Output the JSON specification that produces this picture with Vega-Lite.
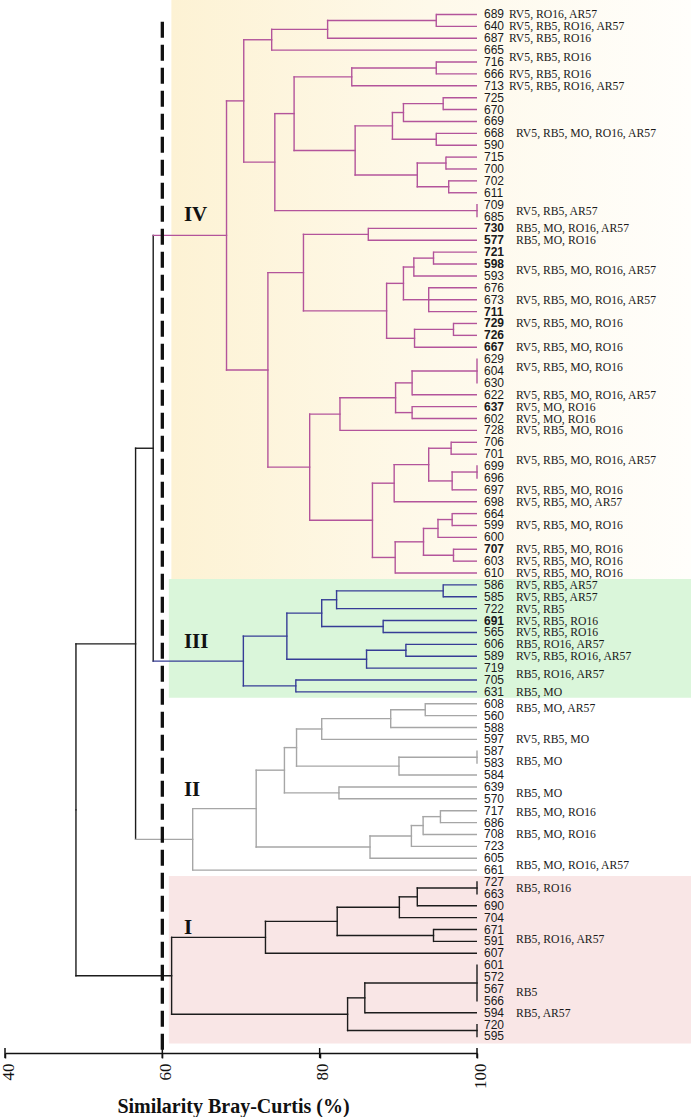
{
  "$schema": "https://vega.github.io/schema/vega-lite/v6.json",
  "width": 472,
  "height": 1053,
  "autosize": {"type": "none"},
  "padding": {"left": 5, "top": 0, "right": 214, "bottom": 64},
  "background": "white",
  "config": {
    "view": {"stroke": null},
    "axisX": {"tickCount": 3, "format": "d", "labelAngle": -90, "labelFlush": false, "labelOffset": 3, "labelFont": "Liberation Serif", "labelFontSize": 17, "labelColor": "#111111", "labelPadding": 5, "tickSize": 5, "tickWidth": 1.5, "tickColor": "#111111", "domainColor": "#111111", "domainWidth": 1.5, "grid": false, "titleFont": "Liberation Serif", "titleFontSize": 20, "titleFontWeight": "bold", "titleColor": "#111111", "titlePadding": 8, "titleX": 228}
  },
  "datasets": {
    "bands": [
      {"grp": "IV", "x0": 61.15, "x1": 127.2, "y0": -1.22, "y1": 47.5},
      {"grp": "III", "x0": 60.83, "x1": 127.2, "y0": 47.5, "y1": 57.5},
      {"grp": "I", "x0": 60.83, "x1": 127.2, "y0": 72.5, "y1": 86.6}
    ],
    "cut": [{"sim": 60, "top": 0.6, "bottom": 87.39}],
    "ticks": [{"v": 40}, {"v": 60}, {"v": 80}, {"v": 100}],
    "nodes": [
      {"id":"A","sim":94.82,"ymin":0,"ymax":1,"y":0.5,"psim":81.01,"grp":"IV"},
      {"id":"B","sim":81.01,"ymin":0.5,"ymax":2,"y":1.25,"psim":73.9,"grp":"IV"},
      {"id":"C","sim":73.9,"ymin":1.25,"ymax":3,"y":2.125,"psim":70.35,"grp":"IV"},
      {"id":"D","sim":94.82,"ymin":4,"ymax":5,"y":4.5,"psim":84.08,"grp":"IV"},
      {"id":"E","sim":84.08,"ymin":4.5,"ymax":6,"y":5.25,"psim":76.75,"grp":"IV"},
      {"id":"F","sim":95.7,"ymin":7,"ymax":8,"y":7.5,"psim":90.65,"grp":"IV"},
      {"id":"G","sim":90.65,"ymin":7.5,"ymax":9,"y":8.25,"psim":89.25,"grp":"IV"},
      {"id":"H","sim":94.82,"ymin":10,"ymax":11,"y":10.5,"psim":89.25,"grp":"IV"},
      {"id":"I4","sim":89.25,"ymin":8.25,"ymax":10.5,"y":9.375,"psim":84.51,"grp":"IV"},
      {"id":"J","sim":96.05,"ymin":12,"ymax":13,"y":12.5,"psim":92.41,"grp":"IV"},
      {"id":"K","sim":96.4,"ymin":14,"ymax":15,"y":14.5,"psim":92.41,"grp":"IV"},
      {"id":"L","sim":92.41,"ymin":12.5,"ymax":14.5,"y":13.5,"psim":84.51,"grp":"IV"},
      {"id":"M","sim":84.51,"ymin":9.375,"ymax":13.5,"y":11.44,"psim":76.75,"grp":"IV"},
      {"id":"N","sim":76.75,"ymin":5.25,"ymax":11.44,"y":8.34,"psim":74.3,"grp":"IV"},
      {"id":"HH1","sim":100,"ymin":16,"ymax":17,"y":16.5,"psim":74.3,"grp":"IV"},
      {"id":"O","sim":74.3,"ymin":8.34,"ymax":16.5,"y":12.42,"psim":70.35,"grp":"IV"},
      {"id":"P","sim":70.35,"ymin":2.125,"ymax":12.42,"y":7.27,"psim":68.16,"grp":"IV"},
      {"id":"S","sim":86.18,"ymin":18,"ymax":19,"y":18.5,"psim":77.94,"grp":"IV"},
      {"id":"T","sim":94.47,"ymin":20,"ymax":21,"y":20.5,"psim":91.97,"grp":"IV"},
      {"id":"U","sim":91.97,"ymin":20.5,"ymax":22,"y":21.25,"psim":90.65,"grp":"IV"},
      {"id":"V","sim":93.86,"ymin":23,"ymax":25,"y":24,"psim":90.65,"grp":"IV"},
      {"id":"W","sim":90.65,"ymin":21.25,"ymax":24,"y":22.625,"psim":88.51,"grp":"IV"},
      {"id":"X","sim":97.01,"ymin":26,"ymax":27,"y":26.5,"psim":92.06,"grp":"IV"},
      {"id":"Y","sim":92.06,"ymin":26.5,"ymax":28,"y":27.25,"psim":88.51,"grp":"IV"},
      {"id":"Z","sim":88.51,"ymin":22.625,"ymax":27.25,"y":24.94,"psim":77.94,"grp":"IV"},
      {"id":"AA","sim":77.94,"ymin":18.5,"ymax":24.94,"y":21.72,"psim":73.42,"grp":"IV"},
      {"id":"BB","sim":100,"ymin":29,"ymax":31,"y":30,"psim":91.75,"grp":"IV"},
      {"id":"CC","sim":91.75,"ymin":30,"ymax":32,"y":31,"psim":89.65,"grp":"IV"},
      {"id":"DD","sim":91.75,"ymin":33,"ymax":34,"y":33.5,"psim":89.65,"grp":"IV"},
      {"id":"EE","sim":89.65,"ymin":31,"ymax":33.5,"y":32.25,"psim":82.58,"grp":"IV"},
      {"id":"FF","sim":82.58,"ymin":32.25,"ymax":35,"y":33.625,"psim":78.73,"grp":"IV"},
      {"id":"GG","sim":96.71,"ymin":36,"ymax":37,"y":36.5,"psim":93.86,"grp":"IV"},
      {"id":"HH","sim":100,"ymin":38,"ymax":39,"y":38.5,"psim":96.84,"grp":"IV"},
      {"id":"II4","sim":96.84,"ymin":38.5,"ymax":40,"y":39.25,"psim":93.86,"grp":"IV"},
      {"id":"JJ","sim":93.86,"ymin":36.5,"ymax":39.25,"y":37.875,"psim":89.47,"grp":"IV"},
      {"id":"KK","sim":89.47,"ymin":37.875,"ymax":41,"y":39.44,"psim":86.71,"grp":"IV"},
      {"id":"LL","sim":96.84,"ymin":42,"ymax":43,"y":42.5,"psim":95.04,"grp":"IV"},
      {"id":"MM","sim":95.04,"ymin":42.5,"ymax":44,"y":43.25,"psim":93.2,"grp":"IV"},
      {"id":"NN","sim":97.01,"ymin":45,"ymax":46,"y":45.5,"psim":93.2,"grp":"IV"},
      {"id":"OO","sim":93.2,"ymin":43.25,"ymax":45.5,"y":44.375,"psim":89.6,"grp":"IV"},
      {"id":"PP","sim":89.6,"ymin":44.375,"ymax":47,"y":45.69,"psim":86.71,"grp":"IV"},
      {"id":"QQ","sim":86.71,"ymin":39.44,"ymax":45.69,"y":42.56,"psim":78.73,"grp":"IV"},
      {"id":"RR","sim":78.73,"ymin":33.625,"ymax":42.56,"y":38.09,"psim":73.42,"grp":"IV"},
      {"id":"Q","sim":73.42,"ymin":21.72,"ymax":38.09,"y":29.91,"psim":68.16,"grp":"IV"},
      {"id":"R","sim":68.16,"ymin":7.27,"ymax":29.91,"y":18.59,"psim":58.84,"grp":"IV"},
      {"id":"a","sim":95.7,"ymin":48,"ymax":49,"y":48.5,"psim":82.15,"grp":"III"},
      {"id":"b","sim":82.15,"ymin":48.5,"ymax":50,"y":49.25,"psim":80.26,"grp":"III"},
      {"id":"c","sim":88.07,"ymin":51,"ymax":52,"y":51.5,"psim":80.26,"grp":"III"},
      {"id":"d","sim":80.26,"ymin":49.25,"ymax":51.5,"y":50.375,"psim":75.83,"grp":"III"},
      {"id":"e","sim":90.96,"ymin":53,"ymax":54,"y":53.5,"psim":85.96,"grp":"III"},
      {"id":"f","sim":85.96,"ymin":53.5,"ymax":55,"y":54.25,"psim":75.83,"grp":"III"},
      {"id":"g","sim":75.83,"ymin":50.375,"ymax":54.25,"y":52.31,"psim":70.3,"grp":"III"},
      {"id":"h","sim":76.97,"ymin":56,"ymax":57,"y":56.5,"psim":70.3,"grp":"III"},
      {"id":"III","sim":70.3,"ymin":52.31,"ymax":56.5,"y":54.41,"psim":58.84,"grp":"III"},
      {"id":"al","sim":93.42,"ymin":58,"ymax":59,"y":58.5,"psim":89.03,"grp":"II"},
      {"id":"be","sim":89.03,"ymin":58.5,"ymax":60,"y":59.25,"psim":80.26,"grp":"II"},
      {"id":"ga","sim":80.26,"ymin":59.25,"ymax":61,"y":60.125,"psim":77.06,"grp":"II"},
      {"id":"de","sim":100,"ymin":62,"ymax":63,"y":62.5,"psim":90.08,"grp":"II"},
      {"id":"ep","sim":90.08,"ymin":62.5,"ymax":64,"y":63.25,"psim":77.06,"grp":"II"},
      {"id":"ze","sim":77.06,"ymin":60.125,"ymax":63.25,"y":61.69,"psim":75.52,"grp":"II"},
      {"id":"et","sim":82.45,"ymin":65,"ymax":66,"y":65.5,"psim":75.52,"grp":"II"},
      {"id":"th","sim":75.52,"ymin":61.69,"ymax":65.5,"y":63.59,"psim":71.93,"grp":"II"},
      {"id":"io","sim":95.35,"ymin":67,"ymax":68,"y":67.5,"psim":93.15,"grp":"II"},
      {"id":"ka","sim":93.15,"ymin":67.5,"ymax":69,"y":68.25,"psim":91.66,"grp":"II"},
      {"id":"la","sim":91.66,"ymin":68.25,"ymax":70,"y":69.125,"psim":86.4,"grp":"II"},
      {"id":"mu","sim":86.4,"ymin":69.125,"ymax":71,"y":70.06,"psim":71.93,"grp":"II"},
      {"id":"nu","sim":71.93,"ymin":63.59,"ymax":70.06,"y":66.83,"psim":63.86,"grp":"II"},
      {"id":"IIr","sim":63.86,"ymin":66.83,"ymax":72,"y":69.41,"psim":56.6,"grp":"II"},
      {"id":"p","sim":100,"ymin":73,"ymax":74,"y":73.5,"psim":92.41,"grp":"I"},
      {"id":"q","sim":92.41,"ymin":73.5,"ymax":75,"y":74.25,"psim":90.13,"grp":"I"},
      {"id":"r","sim":90.13,"ymin":74.25,"ymax":76,"y":75.125,"psim":82.23,"grp":"I"},
      {"id":"s","sim":94.47,"ymin":77,"ymax":78,"y":77.5,"psim":82.23,"grp":"I"},
      {"id":"t","sim":82.23,"ymin":75.125,"ymax":77.5,"y":76.31,"psim":73.11,"grp":"I"},
      {"id":"u","sim":73.11,"ymin":76.31,"ymax":79,"y":77.66,"psim":61.18,"grp":"I"},
      {"id":"v","sim":100,"ymin":80,"ymax":83,"y":81.5,"psim":85.74,"grp":"I"},
      {"id":"w","sim":85.74,"ymin":81.5,"ymax":84,"y":82.75,"psim":83.55,"grp":"I"},
      {"id":"x","sim":100,"ymin":85,"ymax":86,"y":85.5,"psim":83.55,"grp":"I"},
      {"id":"y","sim":83.55,"ymin":82.75,"ymax":85.5,"y":84.125,"psim":61.18,"grp":"I"},
      {"id":"Ir","sim":61.18,"ymin":77.66,"ymax":84.125,"y":80.89,"psim":49.02,"grp":"I"},
      {"id":"T1","sim":58.84,"ymin":18.59,"ymax":54.41,"y":36.5,"psim":56.6,"grp":"top"},
      {"id":"T2","sim":56.6,"ymin":36.5,"ymax":69.41,"y":52.96,"psim":49.02,"grp":"top"},
      {"id":"root","sim":49.02,"ymin":52.96,"ymax":80.89,"y":66.93,"psim":49.02,"grp":"top"}
    ],
    "leaves": [
      {"label":"689","pos":0,"psim":94.82,"grp":"IV","hl":false},
      {"label":"640","pos":1,"psim":94.82,"grp":"IV","hl":false},
      {"label":"687","pos":2,"psim":81.01,"grp":"IV","hl":false},
      {"label":"665","pos":3,"psim":73.9,"grp":"IV","hl":false},
      {"label":"716","pos":4,"psim":94.82,"grp":"IV","hl":false},
      {"label":"666","pos":5,"psim":94.82,"grp":"IV","hl":false},
      {"label":"713","pos":6,"psim":84.08,"grp":"IV","hl":false},
      {"label":"725","pos":7,"psim":95.7,"grp":"IV","hl":false},
      {"label":"670","pos":8,"psim":95.7,"grp":"IV","hl":false},
      {"label":"669","pos":9,"psim":90.65,"grp":"IV","hl":false},
      {"label":"668","pos":10,"psim":94.82,"grp":"IV","hl":false},
      {"label":"590","pos":11,"psim":94.82,"grp":"IV","hl":false},
      {"label":"715","pos":12,"psim":96.05,"grp":"IV","hl":false},
      {"label":"700","pos":13,"psim":96.05,"grp":"IV","hl":false},
      {"label":"702","pos":14,"psim":96.4,"grp":"IV","hl":false},
      {"label":"611","pos":15,"psim":96.4,"grp":"IV","hl":false},
      {"label":"709","pos":16,"psim":100,"grp":"IV","hl":false},
      {"label":"685","pos":17,"psim":100,"grp":"IV","hl":false},
      {"label":"730","pos":18,"psim":86.18,"grp":"IV","hl":true},
      {"label":"577","pos":19,"psim":86.18,"grp":"IV","hl":true},
      {"label":"721","pos":20,"psim":94.47,"grp":"IV","hl":true},
      {"label":"598","pos":21,"psim":94.47,"grp":"IV","hl":true},
      {"label":"593","pos":22,"psim":91.97,"grp":"IV","hl":false},
      {"label":"676","pos":23,"psim":93.86,"grp":"IV","hl":false},
      {"label":"673","pos":24,"psim":93.86,"grp":"IV","hl":false},
      {"label":"711","pos":25,"psim":93.86,"grp":"IV","hl":true},
      {"label":"729","pos":26,"psim":97.01,"grp":"IV","hl":true},
      {"label":"726","pos":27,"psim":97.01,"grp":"IV","hl":true},
      {"label":"667","pos":28,"psim":92.06,"grp":"IV","hl":true},
      {"label":"629","pos":29,"psim":100,"grp":"IV","hl":false},
      {"label":"604","pos":30,"psim":100,"grp":"IV","hl":false},
      {"label":"630","pos":31,"psim":100,"grp":"IV","hl":false},
      {"label":"622","pos":32,"psim":91.75,"grp":"IV","hl":false},
      {"label":"637","pos":33,"psim":91.75,"grp":"IV","hl":true},
      {"label":"602","pos":34,"psim":91.75,"grp":"IV","hl":false},
      {"label":"728","pos":35,"psim":82.58,"grp":"IV","hl":false},
      {"label":"706","pos":36,"psim":96.71,"grp":"IV","hl":false},
      {"label":"701","pos":37,"psim":96.71,"grp":"IV","hl":false},
      {"label":"699","pos":38,"psim":100,"grp":"IV","hl":false},
      {"label":"696","pos":39,"psim":100,"grp":"IV","hl":false},
      {"label":"697","pos":40,"psim":96.84,"grp":"IV","hl":false},
      {"label":"698","pos":41,"psim":89.47,"grp":"IV","hl":false},
      {"label":"664","pos":42,"psim":96.84,"grp":"IV","hl":false},
      {"label":"599","pos":43,"psim":96.84,"grp":"IV","hl":false},
      {"label":"600","pos":44,"psim":95.04,"grp":"IV","hl":false},
      {"label":"707","pos":45,"psim":97.01,"grp":"IV","hl":true},
      {"label":"603","pos":46,"psim":97.01,"grp":"IV","hl":false},
      {"label":"610","pos":47,"psim":89.6,"grp":"IV","hl":false},
      {"label":"586","pos":48,"psim":95.7,"grp":"III","hl":false},
      {"label":"585","pos":49,"psim":95.7,"grp":"III","hl":false},
      {"label":"722","pos":50,"psim":82.15,"grp":"III","hl":false},
      {"label":"691","pos":51,"psim":88.07,"grp":"III","hl":true},
      {"label":"565","pos":52,"psim":88.07,"grp":"III","hl":false},
      {"label":"606","pos":53,"psim":90.96,"grp":"III","hl":false},
      {"label":"589","pos":54,"psim":90.96,"grp":"III","hl":false},
      {"label":"719","pos":55,"psim":85.96,"grp":"III","hl":false},
      {"label":"705","pos":56,"psim":76.97,"grp":"III","hl":false},
      {"label":"631","pos":57,"psim":76.97,"grp":"III","hl":false},
      {"label":"608","pos":58,"psim":93.42,"grp":"II","hl":false},
      {"label":"560","pos":59,"psim":93.42,"grp":"II","hl":false},
      {"label":"588","pos":60,"psim":89.03,"grp":"II","hl":false},
      {"label":"597","pos":61,"psim":80.26,"grp":"II","hl":false},
      {"label":"587","pos":62,"psim":100,"grp":"II","hl":false},
      {"label":"583","pos":63,"psim":100,"grp":"II","hl":false},
      {"label":"584","pos":64,"psim":90.08,"grp":"II","hl":false},
      {"label":"639","pos":65,"psim":82.45,"grp":"II","hl":false},
      {"label":"570","pos":66,"psim":82.45,"grp":"II","hl":false},
      {"label":"717","pos":67,"psim":95.35,"grp":"II","hl":false},
      {"label":"686","pos":68,"psim":95.35,"grp":"II","hl":false},
      {"label":"708","pos":69,"psim":93.15,"grp":"II","hl":false},
      {"label":"723","pos":70,"psim":91.66,"grp":"II","hl":false},
      {"label":"605","pos":71,"psim":86.4,"grp":"II","hl":false},
      {"label":"661","pos":72,"psim":63.86,"grp":"II","hl":false},
      {"label":"727","pos":73,"psim":100,"grp":"I","hl":false},
      {"label":"663","pos":74,"psim":100,"grp":"I","hl":false},
      {"label":"690","pos":75,"psim":92.41,"grp":"I","hl":false},
      {"label":"704","pos":76,"psim":90.13,"grp":"I","hl":false},
      {"label":"671","pos":77,"psim":94.47,"grp":"I","hl":false},
      {"label":"591","pos":78,"psim":94.47,"grp":"I","hl":false},
      {"label":"607","pos":79,"psim":73.11,"grp":"I","hl":false},
      {"label":"601","pos":80,"psim":100,"grp":"I","hl":false},
      {"label":"572","pos":81,"psim":100,"grp":"I","hl":false},
      {"label":"567","pos":82,"psim":100,"grp":"I","hl":false},
      {"label":"566","pos":83,"psim":100,"grp":"I","hl":false},
      {"label":"594","pos":84,"psim":85.74,"grp":"I","hl":false},
      {"label":"720","pos":85,"psim":100,"grp":"I","hl":false},
      {"label":"595","pos":86,"psim":100,"grp":"I","hl":false}
    ],
    "notes": [
      {"apos":0,"text":"RV5, RO16, AR57"},
      {"apos":1,"text":"RV5, RB5, RO16, AR57"},
      {"apos":2,"text":"RV5, RB5, RO16"},
      {"apos":3.6,"text":"RV5, RB5, RO16"},
      {"apos":5,"text":"RV5, RB5, RO16"},
      {"apos":6,"text":"RV5, RB5, RO16, AR57"},
      {"apos":10,"text":"RV5, RB5, MO, RO16, AR57"},
      {"apos":16.5,"text":"RV5, RB5, AR57"},
      {"apos":18,"text":"RB5, MO, RO16, AR57"},
      {"apos":19,"text":"RB5, MO, RO16"},
      {"apos":21.5,"text":"RV5, RB5, MO, RO16, AR57"},
      {"apos":24,"text":"RV5, RB5, MO, RO16, AR57"},
      {"apos":26,"text":"RV5, RB5, MO, RO16"},
      {"apos":28,"text":"RV5, RB5, MO, RO16"},
      {"apos":29.7,"text":"RV5, RB5, MO, RO16"},
      {"apos":32,"text":"RV5, RB5, MO, RO16, AR57"},
      {"apos":33,"text":"RV5, MO, RO16"},
      {"apos":34,"text":"RV5, MO, RO16"},
      {"apos":35,"text":"RV5, RB5, MO, RO16"},
      {"apos":37.5,"text":"RV5, RB5, MO, RO16, AR57"},
      {"apos":40,"text":"RV5, RB5, MO, RO16"},
      {"apos":41,"text":"RV5, RB5, MO, AR57"},
      {"apos":43,"text":"RV5, RB5, MO, RO16"},
      {"apos":45,"text":"RV5, RB5, MO, RO16"},
      {"apos":46,"text":"RV5, RB5, MO, RO16"},
      {"apos":47,"text":"RV5, RB5, MO, RO16"},
      {"apos":48,"text":"RV5, RB5, AR57"},
      {"apos":49,"text":"RV5, RB5, AR57"},
      {"apos":50,"text":"RV5, RB5"},
      {"apos":51,"text":"RV5, RB5, RO16"},
      {"apos":52,"text":"RV5, RB5, RO16"},
      {"apos":53,"text":"RB5, RO16, AR57"},
      {"apos":54,"text":"RV5, RB5, RO16, AR57"},
      {"apos":55.46,"text":"RB5, RO16, AR57"},
      {"apos":57,"text":"RB5, MO"},
      {"apos":58.37,"text":"RB5, MO, AR57"},
      {"apos":61,"text":"RV5, RB5, MO"},
      {"apos":62.8,"text":"RB5, MO"},
      {"apos":65.5,"text":"RB5, MO"},
      {"apos":67.15,"text":"RB5, MO, RO16"},
      {"apos":69,"text":"RB5, MO, RO16"},
      {"apos":71.54,"text":"RB5, MO, RO16, AR57"},
      {"apos":73.54,"text":"RB5, RO16"},
      {"apos":77.8,"text":"RB5, RO16, AR57"},
      {"apos":82.27,"text":"RB5"},
      {"apos":84.05,"text":"RB5, AR57"}
    ],
    "groups": [
      {"g":"IV","gy":16.87},
      {"g":"III","gy":52.8},
      {"g":"II","gy":65.3},
      {"g":"I","gy":76.9}
    ]
  },
  "layer": [
    {
      "data": {"name": "bands"},
      "transform": [{"filter": "datum.grp === 'IV'"}],
      "mark": {"type": "rect", "fill": {"gradient": "linear", "x1": 0, "y1": 0, "x2": 1, "y2": 0, "stops": [{"offset": 0, "color": "#fdf2d4"}, {"offset": 0.5, "color": "#fef9ea"}, {"offset": 1, "color": "#fffefb"}]}},
      "encoding": {
        "x": {"field": "x0", "type": "quantitative", "scale": {"domain": [40, 100], "nice": false, "zero": false}, "title": "Similarity Bray-Curtis (%)"},
        "x2": {"field": "x1"},
        "y": {"field": "y0", "type": "quantitative", "scale": {"domain": [-1.22, 87.39], "nice": false, "zero": false, "reverse": true}, "axis": null},
        "y2": {"field": "y1"}
      }
    },
    {
      "data": {"name": "bands"},
      "transform": [{"filter": "datum.grp === 'III'"}],
      "mark": {"type": "rect", "fill": "#daf6da"},
      "encoding": {
        "x": {"field": "x0", "type": "quantitative", "title": "Similarity Bray-Curtis (%)"},
        "x2": {"field": "x1"},
        "y": {"field": "y0", "type": "quantitative", "axis": null},
        "y2": {"field": "y1"}
      }
    },
    {
      "data": {"name": "bands"},
      "transform": [{"filter": "datum.grp === 'I'"}],
      "mark": {"type": "rect", "fill": "#f9e6e6"},
      "encoding": {
        "x": {"field": "x0", "type": "quantitative", "title": "Similarity Bray-Curtis (%)"},
        "x2": {"field": "x1"},
        "y": {"field": "y0", "type": "quantitative", "axis": null},
        "y2": {"field": "y1"}
      }
    },
    {
      "data": {"name": "nodes"},
      "mark": {"type": "rule", "strokeWidth": 1.4, "strokeCap": "square"},
      "encoding": {
        "x": {"field": "sim", "type": "quantitative", "title": "Similarity Bray-Curtis (%)"},
        "y": {"field": "ymin", "type": "quantitative", "axis": null},
        "y2": {"field": "ymax"},
        "color": {"field": "grp", "type": "nominal", "scale": {"domain": ["IV", "III", "II", "I", "top"], "range": ["#b3549b", "#363c96", "#a6a6a6", "#1c1c1c", "#1c1c1c"]}, "legend": null}
      }
    },
    {
      "data": {"name": "nodes"},
      "mark": {"type": "rule", "strokeWidth": 1.4, "strokeCap": "square"},
      "encoding": {
        "x": {"field": "sim", "type": "quantitative", "title": "Similarity Bray-Curtis (%)"},
        "x2": {"field": "psim"},
        "y": {"field": "y", "type": "quantitative", "axis": null},
        "color": {"field": "grp", "type": "nominal", "legend": null}
      }
    },
    {
      "data": {"name": "leaves"},
      "mark": {"type": "rule", "strokeWidth": 1.4},
      "encoding": {
        "x": {"field": "psim", "type": "quantitative", "title": "Similarity Bray-Curtis (%)"},
        "x2": {"datum": 100},
        "y": {"field": "pos", "type": "quantitative", "axis": null},
        "color": {"field": "grp", "type": "nominal", "legend": null}
      }
    },
    {
      "data": {"name": "cut"},
      "mark": {"type": "rule", "strokeWidth": 3.3, "strokeDash": [16, 7], "color": "#111111"},
      "encoding": {
        "x": {"field": "sim", "type": "quantitative", "title": "Similarity Bray-Curtis (%)"},
        "y": {"field": "top", "type": "quantitative", "axis": null},
        "y2": {"field": "bottom"}
      }
    },
    {
      "data": {"name": "ticks"},
      "mark": {"type": "tick", "orient": "vertical", "size": 10, "thickness": 1.5, "color": "#111111", "opacity": 1},
      "encoding": {
        "x": {"field": "v", "type": "quantitative", "title": "Similarity Bray-Curtis (%)"},
        "y": {"datum": 87.39, "type": "quantitative", "axis": null}
      }
    },
    {
      "data": {"name": "leaves"},
      "transform": [{"filter": "!datum.hl"}],
      "mark": {"type": "text", "align": "left", "baseline": "middle", "dx": 7, "font": "Liberation Sans", "fontSize": 12, "color": "#1a1a1a"},
      "encoding": {
        "x": {"datum": 100, "type": "quantitative", "title": "Similarity Bray-Curtis (%)"},
        "y": {"field": "pos", "type": "quantitative", "axis": null},
        "text": {"field": "label"}
      }
    },
    {
      "data": {"name": "leaves"},
      "transform": [{"filter": "datum.hl"}],
      "mark": {"type": "text", "align": "left", "baseline": "middle", "dx": 7, "font": "Liberation Sans", "fontSize": 12, "fontWeight": "bold", "color": "#1a1a1a"},
      "encoding": {
        "x": {"datum": 100, "type": "quantitative", "title": "Similarity Bray-Curtis (%)"},
        "y": {"field": "pos", "type": "quantitative", "axis": null},
        "text": {"field": "label"}
      }
    },
    {
      "data": {"name": "notes"},
      "transform": [{"filter": "datum.apos < 7"}],
      "mark": {"type": "text", "align": "left", "baseline": "middle", "dx": 32, "font": "Liberation Serif", "fontSize": 11.7, "color": "#1a1a1a"},
      "encoding": {
        "x": {"datum": 100, "type": "quantitative", "title": "Similarity Bray-Curtis (%)"},
        "y": {"field": "apos", "type": "quantitative", "axis": null},
        "text": {"field": "text"}
      }
    },
    {
      "data": {"name": "notes"},
      "transform": [{"filter": "datum.apos >= 7"}],
      "mark": {"type": "text", "align": "left", "baseline": "middle", "dx": 39, "font": "Liberation Serif", "fontSize": 11.7, "color": "#1a1a1a"},
      "encoding": {
        "x": {"datum": 100, "type": "quantitative", "title": "Similarity Bray-Curtis (%)"},
        "y": {"field": "apos", "type": "quantitative", "axis": null},
        "text": {"field": "text"}
      }
    },
    {
      "data": {"name": "groups"},
      "mark": {"type": "text", "align": "left", "baseline": "middle", "font": "Liberation Serif", "fontSize": 21, "fontWeight": "bold", "color": "#111111"},
      "encoding": {
        "x": {"datum": 62.74, "type": "quantitative", "title": "Similarity Bray-Curtis (%)"},
        "y": {"field": "gy", "type": "quantitative", "axis": null},
        "text": {"field": "g"}
      }
    }
  ]
}
